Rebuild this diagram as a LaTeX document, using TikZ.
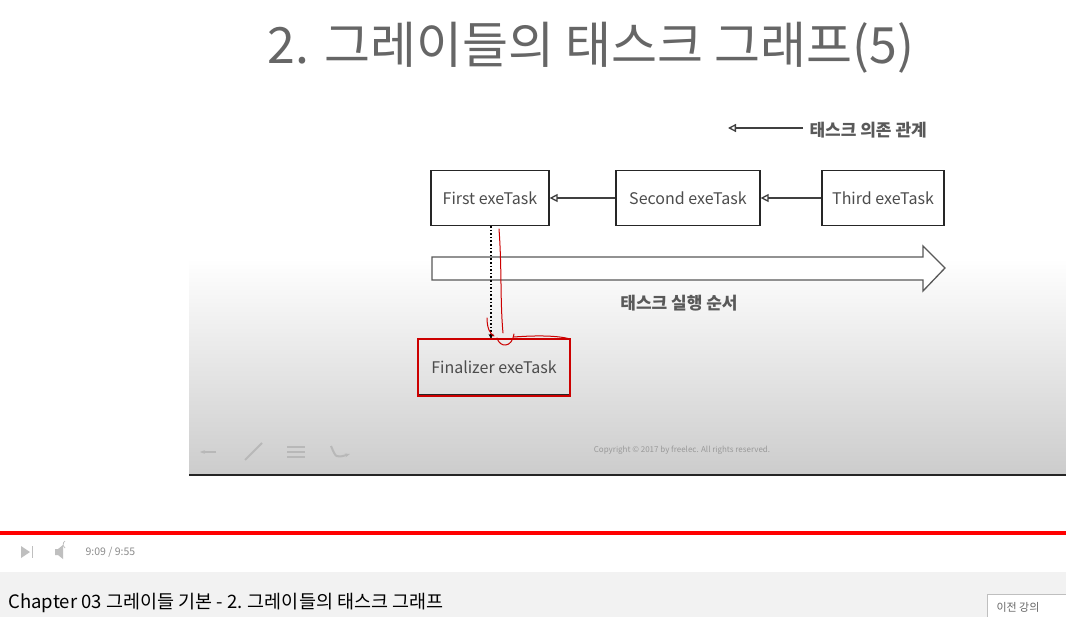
\documentclass[tikz,border=0pt]{standalone}
\usepackage{fontspec}
\setmainfont{Noto Sans CJK KR}
\usetikzlibrary{calc, arrows.meta}
\tikzset{
    taskbox/.style={draw=black!85, line width=1.2pt, minimum height=55pt, inner sep=0pt, font=\fontsize{16}{18}\selectfont, text=black!70},
    deparrow/.style={line width=1.3pt, draw=black!75, -{Triangle[open, length=8pt, width=8pt]}},
    orderarrow/.style={draw=black!65, line width=1.3pt, fill=white, line join=miter},
    redmark/.style={draw=red!80!black, line width=1pt, line cap=round},
    toolicon/.style={draw=black!28, line width=2pt},
    common settings/.style={
        x=1pt, y=-1pt,
        font=\fontsize{16}{18}\selectfont
    }
}

\begin{document}
\begin{tikzpicture}[common settings]
    \useasboundingbox (0,0) rectangle (1066,617);

    \def\ty{198}   % task row
    \def\by{268}   % order arrow axis

    % Slide background
    \fill[white] (0,0) rectangle (1066,617);
    \shade[top color=white, bottom color=black!20] (189,258) rectangle (1066,475);
    \draw[black!85, line width=1.5pt] (189,475) -- (1066,475);

    % Title
    \node[text=black!60, font=\fontsize{50}{54}\selectfont] (title) at (591,48) {2. 그레이들의 태스크 그래프(5)};

    % Legend
    \coordinate (legstart) at (803,128);
    \coordinate (legend) at (728,128);
    \draw[deparrow] (legstart) -- (legend);
    \node[anchor=west, text=black!65, font=\fontsize{17}{19}\selectfont\bfseries] (legtext) at (806,130) {태스크 의존 관계};

    % Task boxes
    \node[taskbox, minimum width=118pt] (first) at (490,\ty) {First exeTask};
    \node[taskbox, minimum width=144pt] (second) at (688,\ty) {Second exeTask};
    \node[taskbox, minimum width=122pt] (third) at (883,\ty) {Third exeTask};
    \node[taskbox, minimum width=152pt] (final) at (494,367) {Finalizer exeTask};

    \draw[deparrow] (second) -- (first);
    \draw[deparrow] (third) -- (second);

    % Execution order
    \draw[orderarrow] (432,257) -- (923,257) -- (923,246) -- (945,\by) -- (923,291) -- (923,280) -- (432,280) -- cycle;
    \node[text=black!65, font=\fontsize{17}{19}\selectfont\bfseries] (ordertext) at (679,303) {태스크 실행 순서};

    % Finalizer dependency (dotted)
    \draw[black, line width=1.6pt, dotted, -{Stealth[length=5pt, width=5pt]}] (first.south -| 491,0) -- (final.north -| 491,0);

    % Red pen marks
    \draw[redmark] (499,229) .. controls (502,270) and (500,300) .. (503,333);
    \draw[redmark] (487,318) .. controls (487,328) and (490,334) .. (494,336);
    \draw[redmark] (497,338) .. controls (500,348) and (512,348) .. (514,334);
    \draw[redmark] (514,337) .. controls (540,335) and (560,336) .. (570,339);
    \draw[red!80!black, line width=1.2pt] (418,339) rectangle (570,396);

    % Slide footer
    \node[text=black!40, font=\fontsize{8}{9}\selectfont] (copyright) at (682,450) {Copyright © 2017 by freelec. All rights reserved.};
    \draw[toolicon, -{Stealth[length=5pt]}] (216,452) -- (200,452);
    \draw[toolicon] (245,460) -- (262,443);
    \draw[toolicon] (287,447) -- (305,447) (287,452) -- (305,452) (287,457) -- (305,457);
    \draw[toolicon, -{Stealth[length=5pt]}] (331,446) .. controls (336,458) .. (350,454);

    % Player bar
    \fill[red] (0,531) rectangle (1066,535);
    \fill[black!25] (21,546) -- (30,552) -- (21,558) -- cycle;
    \draw[black!25, line width=1pt] (32,546) -- (32,558);
    \fill[black!25] (55,549) rectangle (58,555) (58,549) -- (63,545) -- (63,559) -- (58,555) -- cycle;
    \draw[black!25, line width=0.8pt] (65,548) arc (-60:60:-4);
    \node[anchor=west, text=black!45, font=\fontsize{10.5}{12}\selectfont] (time) at (82,552) {9:09 / 9:55};

    % Lecture title band
    \fill[black!5] (0,572) rectangle (1066,617);
    \node[anchor=west, text=black, font=\fontsize{18.5}{21}\selectfont] (chapter) at (5,603) {Chapter 03 그레이들 기본 - 2. 그레이들의 태스크 그래프};
    \draw[black!25, fill=white] (987,594) rectangle (1070,620);
    \node[anchor=west, text=black!60, font=\fontsize{11}{12}\selectfont] (prevlec) at (993,607) {이전 강의};

\end{tikzpicture}
\end{document}
